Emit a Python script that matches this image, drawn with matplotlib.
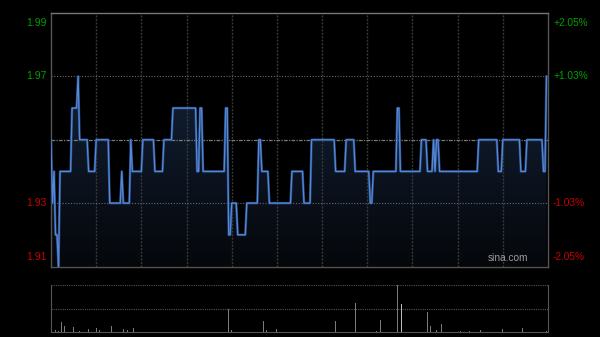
import numpy as np
import matplotlib
matplotlib.use("Agg")
import matplotlib.pyplot as plt
from matplotlib.colors import LinearSegmentedColormap
from matplotlib.transforms import blended_transform_factory

# price change points (minute index, price)
chg_min = [0, 1, 2, 3, 5, 6, 14, 18, 19, 25, 30, 39, 47, 48, 53, 54, 61, 69, 75, 81,
           97, 99, 101, 116, 118, 120, 124, 130, 138, 140, 145, 160, 168, 173, 189,
           196, 202, 212, 214, 230, 232, 246, 250, 254, 255, 256, 258, 284, 297, 300,
           312, 316, 327, 329]
chg_price = [1.95, 1.93, 1.94, 1.92, 1.91, 1.94, 1.96, 1.97, 1.95, 1.94, 1.95, 1.93,
             1.94, 1.93, 1.95, 1.94, 1.95, 1.94, 1.95, 1.96,
             1.94, 1.96, 1.94, 1.96, 1.92, 1.93, 1.92, 1.93, 1.95, 1.94, 1.93, 1.94,
             1.93, 1.95, 1.94, 1.95, 1.94, 1.93, 1.94, 1.96, 1.94, 1.95, 1.94, 1.95,
             1.94, 1.95, 1.94, 1.95, 1.94, 1.95, 1.94, 1.95, 1.94, 1.97]
n_min = 330

# volume bars (minute index, relative volume)
vol_min = [2, 3, 4, 5, 7, 9, 15, 19, 25, 30, 32, 40, 48, 51, 55, 79, 118, 120, 141,
           143, 150, 160, 168, 189, 202, 216, 219, 230, 233, 241, 250, 252, 256, 259,
           272, 278, 285, 300, 313, 329]
vol_val = [6, 4, 5, 3, 21, 12, 11, 3, 6, 9, 4, 13, 6, 5, 9, 5, 50, 5, 24,
           5, 6, 59, 3, 23, 61, 3, 25, 100, 59, 50, 43, 13, 4, 16,
           2, 2, 5, 6, 9, 3]

prev_close = 1.95
left_ticks = [1.99, 1.97, 1.93, 1.91]
right_labels = ["+2.05%", "+1.03%", "-1.03%", "-2.05%"]

minutes = np.arange(n_min)
idx = np.searchsorted(chg_min, minutes, side="right") - 1
price = np.array(chg_price)[idx]

GREEN = "#00a000"
RED = "#c80000"
plt.rcParams["font.family"] = ["Liberation Sans", "DejaVu Sans"]

fig = plt.figure(figsize=(6, 3.37), dpi=100, facecolor="black")
ax = fig.add_axes([51 / 600, 1 - 266.5 / 337, 497 / 600, 253.5 / 337], facecolor="black")
axv = fig.add_axes([51 / 600, 1 - 332 / 337, 497 / 600, 47 / 337], facecolor="black")

ymin, ymax = 1.91, 1.99
ax.set_xlim(0, n_min)
ax.set_ylim(ymin, ymax)

# gradient fill under the line
cmap = LinearSegmentedColormap.from_list("fill", ["#05070b", "#111e32"])
grad = np.linspace(0, 1, 256).reshape(-1, 1)
im = ax.imshow(grad, cmap=cmap, aspect="auto", origin="lower",
               extent=[0, n_min, ymin, 1.965], zorder=1)
poly = ax.fill_between(minutes, price, ymin, color="none", lw=0)
path = poly.get_paths()[0]
im.set_clip_path(path, transform=ax.transData)

# grid
for m in range(30, n_min, 30):
    ax.axvline(m, color="#383838", lw=1, ls=(0, (1.5, 1)), zorder=2)
for y in [1.97, 1.93]:
    ax.axhline(y, color="#6a6a6a", lw=0.8, ls=(0, (1, 1.5)), zorder=2)
ax.axhline(prev_close, color="#7a7a7a", lw=0.9, ls=(0, (3, 1, 1, 1)), zorder=2)

ax.plot(minutes, price, color="#25457a", lw=1.8, zorder=3)
ax.plot(minutes, price, color="#5589d8", lw=0.9, zorder=4)

for s in ax.spines.values():
    s.set_color("#555555")
    s.set_linewidth(1)
ax.spines["top"].set_color("#777777")
ax.set_xticks([])
ax.set_yticks([])

tr = blended_transform_factory(fig.transFigure, ax.transData)
vas = ["top", "center", "center", "bottom"]
for y, lab, va in zip(left_ticks, right_labels, vas):
    c = GREEN if y > prev_close else RED
    dy = -0.0015 if va == "top" else (0.0015 if va == "bottom" else 0)
    ax.text(47 / 600, y + dy, f"{y:.2f}", transform=tr, ha="right", va=va,
            color=c, fontsize=7.5)
    ax.text(553 / 600, y + dy, lab, transform=tr, ha="left", va=va,
            color=c, fontsize=7.3)

ax.text(0.96, 0.012, "sina.com", transform=ax.transAxes, ha="right", va="bottom",
        color="#9a9a9a", fontsize=7.3, zorder=5)

# volume panel
axv.set_xlim(0, n_min)
axv.set_ylim(0, max(vol_val))
vcols = ["#bbbbbb" if m == 233 else "#7a7a7a" for m in vol_min]
axv.bar(vol_min, vol_val, width=0.6, color=vcols, zorder=3)
axv.axhline(max(vol_val), color="#555555", lw=0.8, ls=(0, (1, 1)), zorder=2)
axv.axhline(max(vol_val) / 2, color="#555555", lw=0.8, ls=(0, (1, 1)), zorder=2)
for s in axv.spines.values():
    s.set_color("#555555")
axv.spines["top"].set_visible(False)
axv.set_xticks([])
axv.set_yticks([])

fig.savefig("out.png", dpi=100, facecolor="black")
